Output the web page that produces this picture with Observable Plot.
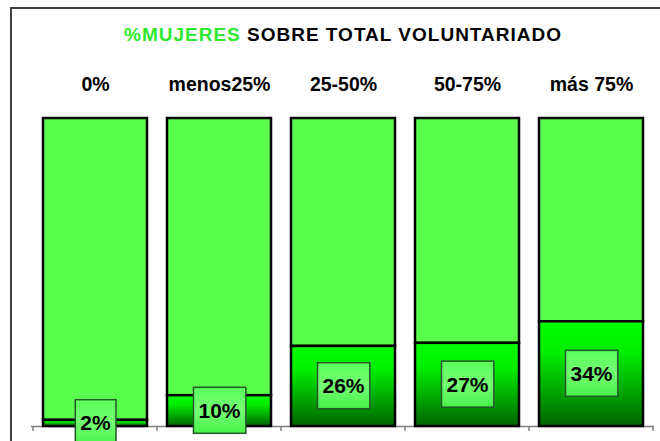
<!DOCTYPE html>
<html>
<head>
<meta charset="utf-8">
<script src="https://cdn.jsdelivr.net/npm/d3@7"></script>
<script src="https://cdn.jsdelivr.net/npm/@observablehq/plot@0.6"></script>
<style>
  html, body { margin: 0; padding: 0; background: white; }
  #chart svg { display: block; }
</style>
</head>
<body>
<div id="chart"></div>
<script>
const categories = ["0%", "menos25%", "25-50%", "50-75%", "más 75%"];
const mujeres = [2, 10, 26, 27, 34];
const pctLabels = ["2%", "10%", "26%", "27%", "34%"];
const total = 100;
const titleGreen = "%MUJERES";
const titleRest = " SOBRE TOTAL VOLUNTARIADO";

const data = categories.map((c, i) => ({cat: c, v: mujeres[i], label: pctLabels[i]}));

const chart = Plot.plot({
  width: 660,
  height: 441,
  marginLeft: 31,
  marginRight: 6,
  marginTop: 118,
  marginBottom: 15,
  style: {fontFamily: "'Liberation Sans', Arial, sans-serif", background: "white", overflow: "visible"},
  x: {domain: categories, paddingInner: 0.165, paddingOuter: 0.0825, axis: null},
  y: {domain: [0, total], axis: null},
  marks: [
    Plot.ruleY([0], {stroke: "#808080", strokeWidth: 1.5}),
    Plot.barY(data, {x: "cat", y1: "v", y2: total, fill: "url(#dots)", stroke: "black", strokeWidth: 2.5}),
    Plot.barY(data, {x: "cat", y1: 0, y2: "v", fill: "url(#darkgrad)", stroke: "black", strokeWidth: 2.5}),
    Plot.text(data, {x: "cat", y: d => d.v / 2, text: "label", fontSize: 21, fontWeight: "bold", fill: "black", ariaDescription: "pct"}),
    Plot.text(data, {x: "cat", text: "cat", frameAnchor: "top", lineAnchor: "middle", dy: -34, fontSize: 19.5, fontWeight: "bold", fill: "black", letterSpacing: "1px"})
  ]
});

document.getElementById("chart").appendChild(chart);

const svg = d3.select(chart);
const defs = svg.insert("defs", ":first-child");
const pat = defs.append("pattern").attr("id", "dots").attr("patternUnits", "userSpaceOnUse")
  .attr("width", 4).attr("height", 4);
pat.append("rect").attr("width", 4).attr("height", 4).attr("fill", "#55ff47");
pat.append("rect").attr("x", 0).attr("y", 0).attr("width", 1).attr("height", 1).attr("fill", "#7dff70");
pat.append("rect").attr("x", 2).attr("y", 2).attr("width", 1).attr("height", 1).attr("fill", "#7dff70");

const g1 = defs.append("linearGradient").attr("id", "darkgrad").attr("x1", 0).attr("y1", 0).attr("x2", 0).attr("y2", 1);
g1.append("stop").attr("offset", "0").attr("stop-color", "#00ff00");
g1.append("stop").attr("offset", "0.3").attr("stop-color", "#00ee00");
g1.append("stop").attr("offset", "1").attr("stop-color", "#006400");

const g2 = defs.append("linearGradient").attr("id", "boxgrad").attr("x1", 0).attr("y1", 0).attr("x2", 0).attr("y2", 1);
g2.append("stop").attr("offset", "0").attr("stop-color", "#5aff5a");
g2.append("stop").attr("offset", "0.5").attr("stop-color", "#74ff74");
g2.append("stop").attr("offset", "1").attr("stop-color", "#48f048");

// label boxes behind the percentage texts
svg.selectAll('g[aria-description="pct"] text').each(function() {
  const b = this.getBBox();
  const padX = 5, padY = 11.5;
  const r = document.createElementNS("http://www.w3.org/2000/svg", "rect");
  r.setAttribute("x", b.x - padX);
  r.setAttribute("y", b.y - padY);
  r.setAttribute("width", b.width + 2 * padX);
  r.setAttribute("height", b.height + 2 * padY);
  const tr = this.getAttribute("transform");
  if (tr) r.setAttribute("transform", tr);
  r.setAttribute("fill", "url(#boxgrad)");
  r.setAttribute("stroke", "#24562a");
  r.setAttribute("stroke-width", "1.5");
  this.parentNode.insertBefore(r, this);
});

// ticks at category boundaries
const xs = chart.scale("x");
const ys = chart.scale("y");
const y0 = ys.apply(0);
const gap = (xs.step - xs.bandwidth) / 2;
const bounds = categories.map(c => xs.apply(c) - gap);
bounds.push(xs.apply(categories[categories.length - 1]) + xs.bandwidth + gap);
svg.append("g").selectAll("line").data(bounds).join("line")
  .attr("x1", d => d).attr("x2", d => d).attr("y1", y0).attr("y2", y0 + 5)
  .attr("stroke", "#808080").attr("stroke-width", 1.5);

// outer frame (chart area border)
svg.append("path").attr("d", "M11,441V8H660").attr("fill", "none")
  .attr("stroke", "#404040").attr("stroke-width", 2);

// title
const t = svg.append("text").attr("x", 343).attr("y", 41).attr("text-anchor", "middle")
  .attr("font-size", 19).attr("font-weight", "bold").attr("letter-spacing", "1px");
t.append("tspan").attr("fill", "#2ee82e").text(titleGreen);
t.append("tspan").attr("fill", "black").text(titleRest);
</script>
</body>
</html>
